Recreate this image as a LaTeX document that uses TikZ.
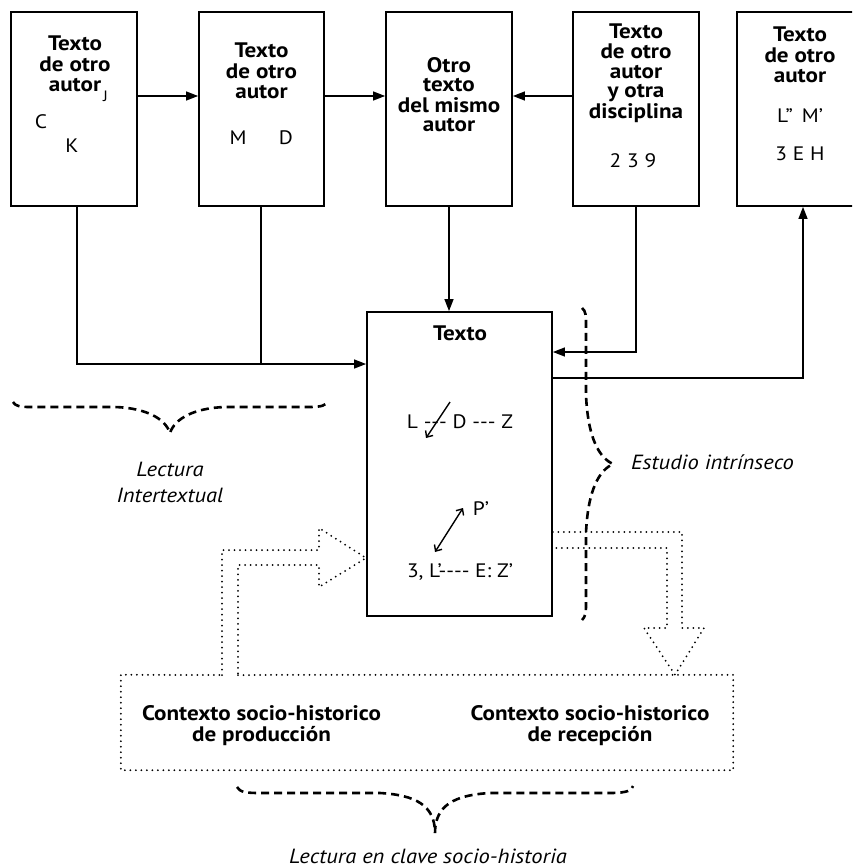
\documentclass[tikz,border=0pt]{standalone}
\usepackage{fontspec}
\setmainfont{PT Sans}[FakeStretch=1.1]
\usetikzlibrary{arrows.meta}
\newcommand{\mlines}[1]{\begin{tabular}[t]{@{}c@{}}#1\end{tabular}}
\begin{document}
\begin{tikzpicture}[x=1pt,y=-1pt,
  box/.style={draw,line width=1.8pt,minimum width=126pt,minimum height=194pt,inner sep=0pt},
  conn/.style={line width=1.3pt},
  tri/.style={-{Triangle[length=12pt,width=9pt]}},
  title/.style={anchor=base,inner sep=0pt,font=\fontsize{21}{19.5}\selectfont\bfseries},
  body/.style={anchor=base,inner sep=0pt,font=\fontsize{19.5}{20}\selectfont},
  lab/.style={anchor=base,inner sep=0pt,font=\fontsize{20.5}{26}\selectfont\itshape},
  ctx/.style={anchor=base,inner sep=0pt,font=\fontsize{21}{20}\selectfont\bfseries},
  dotline/.style={line width=2pt,line cap=round,dash pattern=on 0pt off 5.5pt},
  brace/.style={line width=2.6pt,dash pattern=on 8pt off 5pt},
  barb/.style={line width=1.4pt,-{Straight Barb[length=5pt,width=9pt]}},
]
\useasboundingbox (0,0) rectangle (852,867);
\clip (0,0) rectangle (852,867);

% boxes
\node[box] (b1) at (74,109) {};
\node[box,minimum width=125pt] (b2) at (261.5,109) {};
\node[box] (b3) at (449,109) {};
\node[box] (b4) at (636,109) {};
\node[box] (b5) at (800,109) {};
\node[box,minimum width=185pt,minimum height=304pt] (txt) at (459.5,464) {};

% box texts
\node[title] (t1) at (75,51) {\mlines{Texto\\de otro\\autor}};
\node[anchor=base,inner sep=0pt,font=\fontsize{15}{15}\selectfont] (tj) at (105.5,101) {J};
\node[body] (tc) at (41,128) {C};
\node[body] (tk) at (72,152) {K};

\node[title] (t2) at (261.5,58) {\mlines{Texto\\de otro\\autor}};
\node[body] (tm) at (238,144) {M};
\node[body] (td) at (286,144) {D};

\node[title] (t3) at (449,72) {\mlines{Otro\\texto\\del mismo\\autor}};

\node[title] (t4) at (636,38) {\mlines{Texto\\de otro\\autor\\y otra\\disciplina}};
\node[body] (t239) at (633,167) {2 3 9};

\node[title] (t5) at (800,42) {\mlines{Texto\\de otro\\autor}};
\node[body] (tlm) at (800,122) {L” \,M’};
\node[body] (teh) at (800,160) {3 E H};

% central text
\node[title] (tt) at (460,340) {Texto};
\node[body] (tldz) at (460,428) {L -{}-{}- D -{}-{}- Z};
\node[body] (tp) at (481,515) {P’};
\node[body] (tl3) at (460,577) {3, L’-{}-{}-{}- E: Z’};
\coordinate (s1) at (450,402);
\coordinate (s2) at (426,438);
\draw[barb] (s1) -- (s2);
\coordinate (d1) at (463,508);
\coordinate (d2) at (435,552);
\draw[line width=1.4pt,{Straight Barb[length=5pt,width=9pt]}-{Straight Barb[length=5pt,width=9pt]}] (d1) -- (d2);

% top connectors
\coordinate (ytop) at (0,96);
\draw[conn,tri] (b1.east |- ytop) -- (b2.west |- ytop);
\draw[conn,tri] (b2.east |- ytop) -- (b3.west |- ytop);
\draw[conn,tri] (b4.west |- ytop) -- (b3.east |- ytop);
\draw[conn,tri] (b3.south) -- (b3.south |- txt.north);

% left connectors
\coordinate (j1) at (77,364);
\coordinate (j2) at (261,364);
\draw[conn,tri] (b1.south -| j1) -- (j1) -- (txt.west |- j1);
\draw[conn] (b2.south -| j2) -- (j2);

% right connectors
\coordinate (j3) at (636,352);
\draw[conn,tri] (b4.south) -- (j3) -- (txt.east |- j3);
\coordinate (j4) at (803,378);
\draw[conn,tri] (txt.east |- j4) -- (j4) -- (b5.south -| j4);

% braces
\draw[brace] (13,402) .. controls (15,406) and (20,407) .. (30,407) -- (115,407)
  .. controls (145,408) and (165,418) .. (170,433)
  .. controls (175,418) and (195,408) .. (225,407) -- (310,407)
  .. controls (322,407) and (326,405) .. (327,402);
\node[lab] (lint1) at (170,476) {Lectura};
\node[lab] (lint2) at (170,502) {Intertextual};

\draw[brace] (582,308) .. controls (586,311) and (586,316) .. (586,325) -- (586,395)
  .. controls (588,440) and (600,458) .. (613,464)
  .. controls (600,470) and (588,488) .. (586,533) -- (586,605)
  .. controls (586,614) and (585,617) .. (582,620);
\node[lab,anchor=base west] (lest) at (631,469) {Estudio intrínseco};

\draw[brace] (237,787) .. controls (240,792) and (245,793) .. (260,793) -- (380,793)
  .. controls (415,795) and (435,805) .. (435,833)
  .. controls (435,805) and (455,795) .. (490,793) -- (610,793)
  .. controls (628,793) and (632,790) .. (633,786);
\node[lab] (lsoc) at (428,863) {Lectura en clave socio-historia};

% context box
\node[inner sep=0pt,minimum width=612pt,minimum height=95pt] (ctxbox) at (427,722.5) {};
\coordinate (p1) at (222,675);
\coordinate (p2) at (238,675);
\draw[dotline] (p2) -- (ctxbox.north east) -- (ctxbox.south east) -- (ctxbox.south west) -- (ctxbox.north west) -- (p1);
\node[ctx] (cp) at (261.5,720) {\mlines{Contexto socio-historico\\de producción}};
\node[ctx] (cr) at (590,720) {\mlines{Contexto socio-historico\\de recepción}};

% dotted arrows
\coordinate (tipL) at (367,558);
\draw[dotline] (p1) -- (222,550) -- (319,550) -- (319,528) -- (txt.west |- tipL) -- (319,587) -- (319,565) -- (238,565) -- (p2);
\coordinate (tipR) at (675,675);
\draw[dotline] (txt.east |- 0,532) -- (682,532) -- (682,628) -- (704,628) -- (tipR |- ctxbox.north) -- (644,628) -- (667,628) -- (667,548) -- (txt.east |- 0,548);
\end{tikzpicture}
\end{document}
